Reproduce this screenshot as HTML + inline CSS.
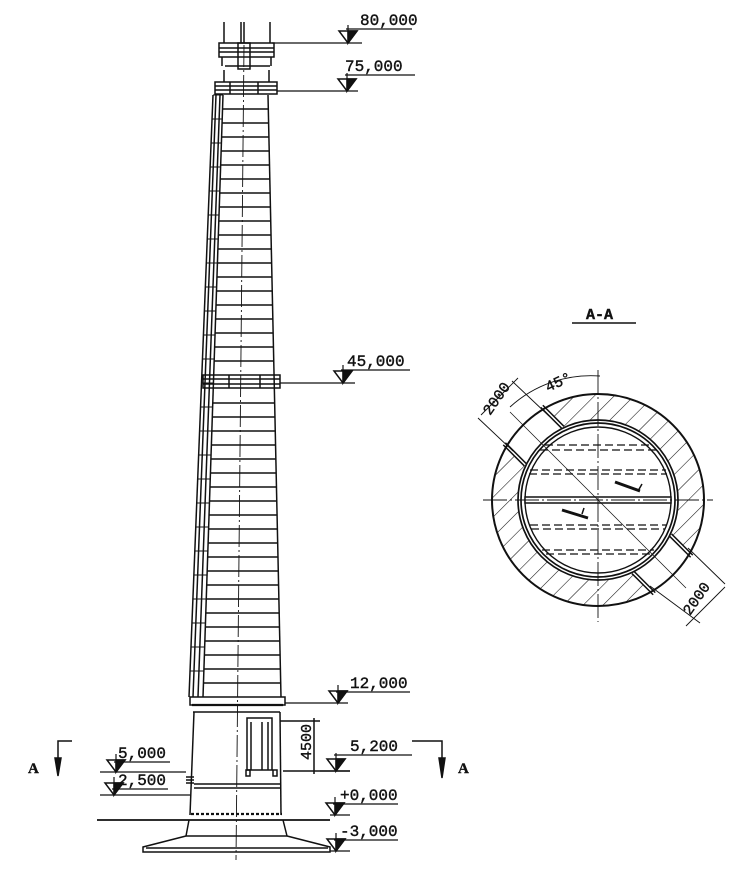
<!DOCTYPE html>
<html><head><meta charset="utf-8"><style>
html,body{margin:0;padding:0;background:#fff}
svg{display:block}
text{font-family:"Liberation Mono",monospace;fill:#111;stroke:#111;stroke-width:0.4}
</style></head><body>
<svg id="s" width="750" height="878" viewBox="0 0 750 878" xmlns="http://www.w3.org/2000/svg" stroke="#111" fill="none" stroke-width="1.5">
<defs>
<pattern id="h" width="14" height="14" patternUnits="userSpaceOnUse" patternTransform="rotate(45)">
<line x1="0" y1="0" x2="0" y2="14" stroke="#111" stroke-width="1.1"/>
</pattern>
<mask id="m" maskUnits="userSpaceOnUse" x="0" y="0" width="750" height="878">
<circle cx="598" cy="500" r="106" fill="#fff" stroke="none"/>
<circle cx="598" cy="500" r="80" fill="#000" stroke="none"/>
<rect x="-28" y="-120" width="56" height="240" fill="#000" stroke="none" transform="translate(598 500) rotate(-45)"/>
</mask>
</defs>

<g>
<line x1="224" y1="22" x2="224" y2="43"/><line x1="241" y1="22" x2="241" y2="43"/><line x1="244" y1="22" x2="244" y2="43"/><line x1="270" y1="22" x2="270" y2="43"/>
<rect x="219" y="43" width="55" height="14"/>
<line x1="219" y1="48" x2="274" y2="48"/><line x1="219" y1="52" x2="274" y2="52"/>
<rect x="238" y="43" width="12" height="26"/>
<line x1="222" y1="57" x2="222" y2="66"/><line x1="271" y1="57" x2="271" y2="66"/>
<line x1="225" y1="66" x2="270" y2="66"/>
<line x1="224" y1="70" x2="224" y2="82"/><line x1="269" y1="70" x2="269" y2="82"/>
<rect x="215" y="82" width="62" height="12"/>
<line x1="215" y1="86" x2="277" y2="86"/><line x1="215" y1="90" x2="277" y2="90"/>
<line x1="230" y1="82" x2="230" y2="94"/><line x1="258" y1="82" x2="258" y2="94"/>
</g>

<line x1="223" y1="95" x2="203" y2="697"/>
<line x1="268" y1="95" x2="281" y2="697"/>
<line x1="213" y1="95" x2="189" y2="697"/>
<line x1="216" y1="95" x2="193" y2="697"/>
<line x1="220" y1="95" x2="198" y2="697"/>
<line x1="244" y1="45" x2="236" y2="860" stroke-dasharray="22 3 2 3" stroke-width="0.9"/>
<g id="bands"></g>

<rect x="203" y="375" width="77" height="13"/>
<line x1="203" y1="379" x2="280" y2="379"/><line x1="203" y1="384" x2="280" y2="384"/>
<line x1="229" y1="375" x2="229" y2="388"/><line x1="260" y1="375" x2="260" y2="388"/>

<rect x="190" y="697" width="95" height="8"/>
<line x1="192" y1="705" x2="283" y2="705" stroke-width="2.2"/>
<line x1="193" y1="712" x2="280" y2="712"/>
<line x1="194" y1="712" x2="190" y2="815"/>
<line x1="280" y1="712" x2="281" y2="815"/>
<rect x="247" y="718" width="25" height="52"/>
<line x1="251" y1="722" x2="251" y2="770"/><line x1="262" y1="722" x2="262" y2="770"/><line x1="268" y1="722" x2="268" y2="770"/>
<rect x="246" y="770" width="4" height="6"/><rect x="273" y="770" width="4" height="6"/>
<line x1="194" y1="784" x2="281" y2="784"/><line x1="194" y1="788" x2="281" y2="788"/>
<line x1="191" y1="814" x2="282" y2="814" stroke-width="2.2" stroke-dasharray="3 2"/>
<line x1="97" y1="820" x2="330" y2="820" stroke-width="1.8"/>
<line x1="189" y1="820" x2="186" y2="836"/><line x1="283" y1="820" x2="287" y2="836"/>
<polyline points="186,836 143,847 143,852 330,852 330,847 287,836"/>
<line x1="186" y1="836" x2="287" y2="836"/>
<line x1="146" y1="848" x2="328" y2="848"/>
<line x1="186" y1="777" x2="194" y2="777"/><line x1="186" y1="780" x2="194" y2="780"/><line x1="186" y1="783" x2="194" y2="783"/>

<line x1="280" y1="721" x2="320" y2="721"/><line x1="283" y1="771" x2="350" y2="771"/>
<line x1="314" y1="718" x2="314" y2="774"/>
<text x="0" y="0" font-size="15" transform="translate(311 760) rotate(-90)">4500</text>

<g id="marks"></g>

<text x="28" y="773" font-size="15" font-weight="bold" style="font-family:'Liberation Serif',serif">A</text>
<polyline points="72,741 58,741 58,770"/><polygon points="55,758 61,758 58,776" fill="#111"/>
<polyline points="412,741 442,741 442,770"/><polygon points="439,758 445,758 442,778" fill="#111"/>
<text x="458" y="773" font-size="15" font-weight="bold" style="font-family:'Liberation Serif',serif">A</text>

<text x="586" y="319" font-size="15" font-weight="bold">A-A</text>
<line x1="572" y1="323" x2="636" y2="323"/>
<rect x="480" y="380" width="240" height="240" fill="url(#h)" mask="url(#m)" stroke="none"/>
<g transform="translate(598 500) rotate(-45)">
<rect x="-27" y="-104" width="54" height="26" fill="#fff" stroke="none"/>
<rect x="-27" y="78" width="54" height="26" fill="#fff" stroke="none"/>
<line x1="-28" y1="-106" x2="-28" y2="-76"/><line x1="-25" y1="-106" x2="-25" y2="-76"/>
<line x1="28" y1="-106" x2="28" y2="-76"/><line x1="25" y1="-106" x2="25" y2="-76"/>
<line x1="-28" y1="76" x2="-28" y2="106"/><line x1="-25" y1="76" x2="-25" y2="106"/>
<line x1="28" y1="76" x2="28" y2="106"/><line x1="25" y1="76" x2="25" y2="106"/>
</g>
<circle cx="598" cy="500" r="106" stroke-width="2"/>
<circle cx="598" cy="500" r="80" stroke-width="1.7"/>
<circle cx="598" cy="500" r="77" stroke-width="1.7"/>
<circle cx="598" cy="500" r="73" stroke-width="1.4"/>
<rect x="525" y="497" width="146" height="6" fill="#fff"/>
<line x1="483" y1="500" x2="713" y2="500" stroke-dasharray="24 3 2 3" stroke-width="0.9"/>
<line x1="598" y1="370" x2="598" y2="622" stroke-dasharray="24 3 2 3" stroke-width="0.9"/>
<line x1="510" y1="412" x2="686" y2="588" stroke-width="0.7"/>
<g stroke-dasharray="8 4" stroke-width="1.2">
<line x1="545" y1="445" x2="651" y2="445"/><line x1="540" y1="450" x2="656" y2="450"/>
<line x1="530" y1="470" x2="666" y2="470"/><line x1="529" y1="474" x2="667" y2="474"/>
<line x1="530" y1="525" x2="666" y2="525"/><line x1="531" y1="529" x2="665" y2="529"/>
<line x1="542" y1="550" x2="654" y2="550"/><line x1="546" y1="554" x2="650" y2="554"/>
</g>
<line x1="615" y1="482" x2="640" y2="491" stroke-width="3"/><line x1="642" y1="484" x2="638" y2="491"/>
<line x1="562" y1="510" x2="588" y2="518" stroke-width="3"/><line x1="584" y1="508" x2="582" y2="514"/>
<line x1="478" y1="418" x2="513" y2="451" stroke-width="0.9"/>
<line x1="512" y1="381" x2="549" y2="416" stroke-width="0.9"/>
<line x1="481" y1="415" x2="518" y2="378" stroke-width="0.9"/>
<path d="M510 407 A120 120 0 0 1 600 376" stroke-width="0.9"/>
<text x="0" y="0" font-size="15" transform="translate(490 416) rotate(-55)">2000</text>
<text x="0" y="0" font-size="15" transform="translate(548 392) rotate(-25)">45°</text>
<line x1="650" y1="586" x2="700" y2="623" stroke-width="0.9"/>
<line x1="688" y1="548" x2="725" y2="584" stroke-width="0.9"/>
<line x1="686" y1="626" x2="725" y2="587" stroke-width="0.9"/>
<text x="0" y="0" font-size="15" transform="translate(690 616) rotate(-55)">2000</text>
</svg>
<script>
var NS="http://www.w3.org/2000/svg";
var b=document.getElementById("bands");
function L(g,x1,y1,x2,y2,w){var l=document.createElementNS(NS,"line");l.setAttribute("x1",x1);l.setAttribute("y1",y1);l.setAttribute("x2",x2);l.setAttribute("y2",y2);if(w)l.setAttribute("stroke-width",w);g.appendChild(l);}
function lx(y){return 223-20*(y-95)/602;}function rx(y){return 268+13*(y-95)/602;}
function ox(y){return 213-24*(y-95)/602;}
for(var y=109;y<695;y+=14){if(y>372&&y<391)continue;L(b,lx(y),y,rx(y),y,1.4);}
for(var y=95;y<695;y+=24){L(b,ox(y),y,lx(y),y,1);}
var m=document.getElementById("marks");
function T(x,y,s){var t=document.createElementNS(NS,"text");t.setAttribute("x",x);t.setAttribute("y",y);t.setAttribute("font-size","16");t.textContent=s;m.appendChild(t);}
function P(pts,f){var p=document.createElementNS(NS,"polygon");p.setAttribute("points",pts);if(f){p.setAttribute("fill","#111");}m.appendChild(p);}
function mark(ax,ay,lx0,lx1,tx,ty,ux1,s){
 L(m,lx0,ay,lx1,ay,1.2);
 P((ax-9)+","+(ay-12)+" "+(ax+9)+","+(ay-12)+" "+ax+","+ay);
 P(ax+","+(ay-12)+" "+(ax+9)+","+(ay-12)+" "+ax+","+ay,true);
 L(m,ax,ay-18,ax,ay,1.2);
 L(m,ax-2,ty+4,ux1,ty+4,1.2);
 T(tx,ty,s);
}
mark(348,43,272,362,360,25,412,"80,000");
mark(347,91,277,358,345,71,415,"75,000");
mark(343,383,280,355,347,366,410,"45,000");
mark(338,703,285,348,350,688,410,"12,000");
mark(336,771,320,350,350,751,412,"5,200");
mark(335,815,330,350,340,800,398,"+0,000");
mark(336,851,330,350,340,836,398,"-3,000");
mark(116,772,100,186,118,758,170,"5,000");
mark(114,795,100,190,118,785,168,"2,500");
</script>
</body></html>
